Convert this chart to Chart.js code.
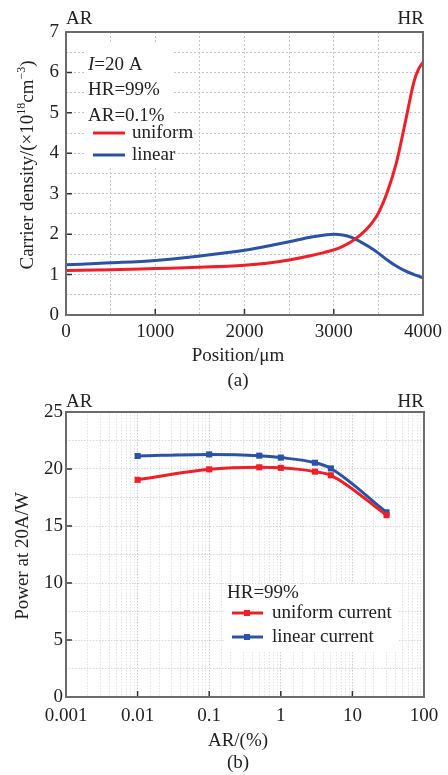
<!DOCTYPE html>
<html>
<head>
<meta charset="utf-8">
<script src="https://cdn.jsdelivr.net/npm/chart.js@4.4.0/dist/chart.umd.min.js"></script>
<style>
  body { margin: 0; background: #fff; }
  #wrap { position: relative; width: 448px; height: 775px; }
  canvas { position: absolute; left: 0; }
</style>
</head>
<body>
<div id="wrap">
  <canvas id="densityChart" width="448" height="390" style="top:0"></canvas>
  <canvas id="powerChart" width="448" height="385" style="top:390px"></canvas>
</div>
<script>
// (a) carrier density along the cavity
const positions = [0, 500, 1000, 1500, 2000, 2250, 2500, 2750, 2900, 3000, 3100, 3200, 3300, 3400, 3500, 3600, 3700, 3800, 3900, 3950, 4000];
const uniformDensity = [1.10, 1.12, 1.15, 1.18, 1.23, 1.28, 1.36, 1.47, 1.55, 1.61, 1.70, 1.82, 1.98, 2.20, 2.52, 3.04, 3.75, 4.75, 5.78, 6.08, 6.25];
const linearDensity = [1.24, 1.29, 1.35, 1.46, 1.60, 1.70, 1.81, 1.93, 1.98, 2.00, 1.98, 1.92, 1.81, 1.68, 1.53, 1.36, 1.21, 1.09, 1.00, 0.96, 0.92];
const positionTicks = [0, 1000, 2000, 3000, 4000];
const densityTicks = [0, 1, 2, 3, 4, 5, 6, 7];

// (b) output power vs AR reflectivity
const arValues = [0.01, 0.1, 0.5, 1, 3, 5, 30];
const uniformPower = [19.05, 19.97, 20.15, 20.10, 19.77, 19.45, 15.95];
const linearPower = [21.14, 21.28, 21.17, 21.00, 20.55, 20.05, 16.20];
const arTicks = [0.001, 0.01, 0.1, 1, 10, 100];
const powerTicks = [0, 5, 10, 15, 20, 25];

const RED = '#ee1f26';
const BLUE = '#2a52a6';
const INK = '#222';
const FONT = '19px "Liberation Serif", "Times New Roman", serif';
const SUP_FONT = '12px "Liberation Serif", "Times New Roman", serif';

Chart.defaults.font.family = '"Liberation Serif", "Times New Roman", serif';
Chart.defaults.font.size = 19;
Chart.defaults.color = INK;

function text(ctx, str, x, y, align, font) {
    ctx.font = font || FONT;
    ctx.textAlign = align || 'left';
    ctx.textBaseline = 'alphabetic';
    ctx.fillStyle = INK;
    ctx.fillText(str, x, y);
    return ctx.measureText(str).width;
}

// vertical axis title, parts may be raised as superscripts
function rotatedTitle(ctx, parts, baseX, centerY) {
    ctx.save();
    ctx.translate(baseX, centerY);
    ctx.rotate(-Math.PI / 2);
    let total = 0;
    parts.forEach(p => {
        ctx.font = p.sup ? SUP_FONT : FONT;
        total += ctx.measureText(p.text).width;
    });
    let x = -total / 2;
    ctx.textAlign = 'left';
    ctx.textBaseline = 'alphabetic';
    ctx.fillStyle = INK;
    parts.forEach(p => {
        ctx.font = p.sup ? SUP_FONT : FONT;
        ctx.fillText(p.text, x, p.sup ? -8 : 0);
        x += ctx.measureText(p.text).width;
    });
    ctx.restore();
}

// inward ticks, frame and free text
function makeDecor(xTicks, yTicks, legendBox, drawText) {
    return {
        id: 'decor',
        beforeDatasetsDraw(chart) {
            const ctx = chart.ctx;
            ctx.save();
            ctx.fillStyle = '#fff';
            ctx.fillRect(legendBox[0], legendBox[1], legendBox[2], legendBox[3]);
            ctx.restore();
        },
        afterDraw(chart) {
            const ctx = chart.ctx;
            const { left, right, top, bottom } = chart.chartArea;
            const xs = chart.scales.x;
            const ys = chart.scales.y;
            ctx.save();
            ctx.strokeStyle = '#333';
            ctx.lineWidth = 1.5;
            ctx.beginPath();
            xTicks.forEach(v => {
                const p = xs.getPixelForValue(v);
                ctx.moveTo(p, bottom);
                ctx.lineTo(p, bottom - 6);
            });
            yTicks.forEach(v => {
                const p = ys.getPixelForValue(v);
                ctx.moveTo(left, p);
                ctx.lineTo(left + 6, p);
            });
            ctx.stroke();
            ctx.strokeStyle = '#6b6b6b';
            ctx.lineWidth = 2;
            ctx.strokeRect(left, top, right - left, bottom - top);
            ctx.restore();
            ctx.save();
            drawText(ctx, chart);
            ctx.restore();
        }
    };
}

function isDecade(v) {
    const e = Math.log10(v);
    return Math.abs(e - Math.round(e)) < 1e-6;
}

// ---------- (a) ----------
new Chart(document.getElementById('densityChart'), {
    type: 'line',
    data: {
        datasets: [
            {
                label: 'uniform',
                data: positions.map((x, i) => ({ x: x, y: uniformDensity[i] })),
                borderColor: RED,
                borderWidth: 3,
                pointRadius: 0,
                cubicInterpolationMode: 'monotone',
            },
            {
                label: 'linear',
                data: positions.map((x, i) => ({ x: x, y: linearDensity[i] })),
                borderColor: BLUE,
                borderWidth: 3,
                pointRadius: 0,
                cubicInterpolationMode: 'monotone',
            },
        ],
    },
    options: {
        responsive: false,
        animation: false,
        devicePixelRatio: 1,
        layout: { padding: { top: 32, right: 24, left: 0, bottom: 0 } },
        plugins: { legend: { display: false }, tooltip: { enabled: false } },
        scales: {
            x: {
                type: 'linear',
                min: 0,
                max: 4000,
                afterFit: s => { s.height = 75; },
                ticks: {
                    stepSize: 500,
                    autoSkip: false,
                    maxRotation: 0,
                    padding: 6,
                    callback: v => (v % 1000 === 0 ? v : ''),
                },
                grid: { color: '#c6c6c6', drawTicks: false },
                border: { display: false, dash: [2, 2] },
            },
            y: {
                min: 0,
                max: 7,
                afterFit: s => { s.width = 66; },
                ticks: {
                    stepSize: 0.5,
                    autoSkip: false,
                    padding: 7,
                    callback: v => (Number.isInteger(v) ? v : ''),
                },
                grid: { color: '#c6c6c6', drawTicks: false },
                border: { display: false, dash: [2, 2] },
            },
        },
    },
    plugins: [makeDecor(positionTicks, densityTicks, [86, 44, 86, 122], (ctx, chart) => {
        text(ctx, 'AR', 66, 24);
        text(ctx, 'HR', 424, 24, 'right');
        const w = text(ctx, 'I', 88, 70, 'left', 'italic 19px "Liberation Serif", serif');
        text(ctx, '=20 A', 88 + w, 70);
        text(ctx, 'HR=99%', 88, 95);
        text(ctx, 'AR=0.1%', 88, 120.5);
        const rows = [133, 155];
        chart.data.datasets.forEach((ds, i) => {
            ctx.strokeStyle = ds.borderColor;
            ctx.lineWidth = 3;
            ctx.beginPath();
            ctx.moveTo(93, rows[i]);
            ctx.lineTo(125, rows[i]);
            ctx.stroke();
            text(ctx, ds.label, 132, rows[i] + 5);
        });
        text(ctx, 'Position/\u03bcm', 238, 361, 'center');
        text(ctx, '(a)', 238, 386, 'center');
        rotatedTitle(ctx, [
            { text: 'Carrier density/(\u00d710' },
            { text: '18', sup: true },
            { text: 'cm' },
            { text: '\u22123', sup: true },
            { text: ')' },
        ], 33, 165);
    })],
});

// ---------- (b) ----------
new Chart(document.getElementById('powerChart'), {
    type: 'line',
    data: {
        datasets: [
            {
                label: 'uniform current',
                data: arValues.map((x, i) => ({ x: x, y: uniformPower[i] })),
                borderColor: RED,
                backgroundColor: RED,
                borderWidth: 3,
                pointStyle: 'rect',
                pointRadius: 4.3,
                pointBorderWidth: 0,
                cubicInterpolationMode: 'monotone',
            },
            {
                label: 'linear current',
                data: arValues.map((x, i) => ({ x: x, y: linearPower[i] })),
                borderColor: BLUE,
                backgroundColor: BLUE,
                borderWidth: 3,
                pointStyle: 'rect',
                pointRadius: 4.3,
                pointBorderWidth: 0,
                cubicInterpolationMode: 'monotone',
            },
        ],
    },
    options: {
        responsive: false,
        animation: false,
        devicePixelRatio: 1,
        layout: { padding: { top: 22, right: 24, left: 0, bottom: 0 } },
        plugins: { legend: { display: false }, tooltip: { enabled: false } },
        scales: {
            x: {
                type: 'logarithmic',
                min: 0.001,
                max: 100,
                afterFit: s => { s.height = 78; },
                ticks: {
                    autoSkip: false,
                    maxRotation: 0,
                    minRotation: 0,
                    padding: 8,
                    callback: v => (isDecade(v) ? String(+v.toPrecision(1)) : ''),
                },
                grid: {
                    color: c => (c.tick && isDecade(c.tick.value) ? '#cdcdcd' : '#e3e3e3'),
                    drawTicks: false,
                },
                border: { display: false, dash: [1.5, 1.5] },
            },
            y: {
                min: 0,
                max: 25,
                afterFit: s => { s.width = 66; },
                ticks: {
                    stepSize: 2.5,
                    autoSkip: false,
                    padding: 3,
                    callback: v => (v % 5 === 0 ? v : ''),
                },
                grid: { color: '#d6d6d6', drawTicks: false },
                border: { display: false, dash: [1.5, 1.5] },
            },
        },
    },
    plugins: [makeDecor(arTicks, powerTicks, [225, 194, 174, 68], (ctx, chart) => {
        text(ctx, 'AR', 66, 17);
        text(ctx, 'HR', 424, 17, 'right');
        text(ctx, 'HR=99%', 227, 208);
        const rows = [223, 247];
        chart.data.datasets.forEach((ds, i) => {
            ctx.strokeStyle = ds.borderColor;
            ctx.fillStyle = ds.borderColor;
            ctx.lineWidth = 3;
            ctx.beginPath();
            ctx.moveTo(232, rows[i]);
            ctx.lineTo(263, rows[i]);
            ctx.stroke();
            ctx.fillRect(244, rows[i] - 3, 6, 6);
            text(ctx, ds.label, 272, rows[i] + 5);
        });
        text(ctx, 'AR/(%)', 238, 356, 'center');
        text(ctx, '(b)', 238, 378, 'center');
        rotatedTitle(ctx, [{ text: 'Power at 20A/W' }], 28, 166);
    })],
});
</script>
</body>
</html>
